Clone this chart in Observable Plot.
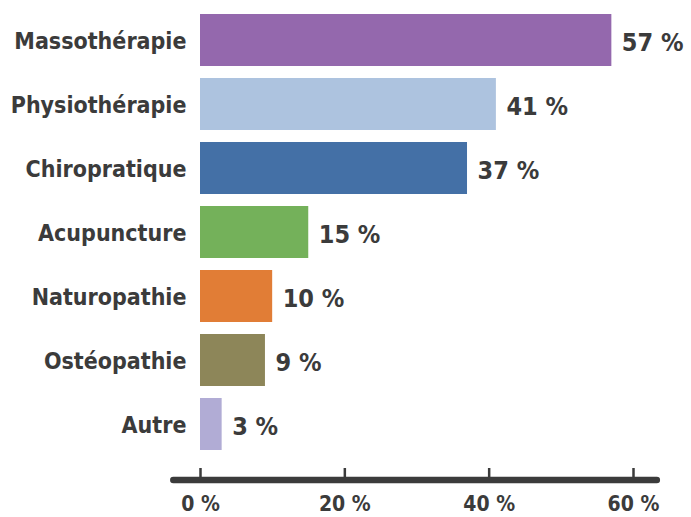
<!DOCTYPE html>
<html>
<head>
<meta charset="utf-8">
<script src="https://cdn.jsdelivr.net/npm/d3@7"></script>
<script src="https://cdn.jsdelivr.net/npm/@observablehq/plot@0.6"></script>
<style>
  html, body { margin: 0; padding: 0; background: #fff; }
  #chart svg { display: block; }
</style>
</head>
<body>
<div id="chart"></div>
<script>
const categories = ["Massothérapie", "Physiothérapie", "Chiropratique", "Acupuncture", "Naturopathie", "Ostéopathie", "Autre"];
const values = [57, 41, 37, 15, 10, 9, 3];
const colors = ["#9468ad", "#adc3df", "#4470a6", "#74b15a", "#e17d36", "#8d8659", "#b1acd5"];
const xTicks = [0, 20, 40, 60];

const data = categories.map((c, i) => ({category: c, value: values[i]}));
const FONT = "'DejaVu Sans Condensed', 'Liberation Sans Narrow', 'Arial Narrow', sans-serif";

const plot = Plot.plot({
  width: 691,
  height: 517,
  marginLeft: 200,
  marginRight: 58,
  marginTop: 1,
  marginBottom: 37,
  style: {fontFamily: FONT, color: "#3b3b3b", background: "#fff"},
  x: {domain: [0, 60]},
  y: {domain: categories, range: [1, 464], padding: 0.18},
  color: {domain: categories, range: colors},
  marks: [
    Plot.barX(data, {x: "value", y: "category", fill: "category"}),
    Plot.text(data, {
      x: "value", y: "category", text: d => d.value + " %",
      textAnchor: "start", dx: 10, dy: 2, fontSize: 25, fontWeight: "bold", fill: "#3b3b3b"
    }),
    Plot.axisY({tickSize: 0, tickPadding: 14, fontSize: 23, fontWeight: "bold", label: null, dy: 1}),
    Plot.axisX({ticks: xTicks, tickSize: 12, dy: -12, tickPadding: 16, fontSize: 21, fontWeight: "bold", tickFormat: d => d + " %", label: null, strokeWidth: 2.5, stroke: "#3b3b3b"})
  ]
});

// thick baseline of the x axis, placed with the plot's own x scale
const xs = plot.scale("x");
const svg = d3.select(plot);
svg.append("line")
  .attr("x1", xs.apply(-3.7)).attr("x2", xs.apply(63.3))
  .attr("y1", 480).attr("y2", 480)
  .attr("stroke", "#3b3b3b").attr("stroke-width", 6.5).attr("stroke-linecap", "round");

document.getElementById("chart").appendChild(plot);
</script>
</body>
</html>
